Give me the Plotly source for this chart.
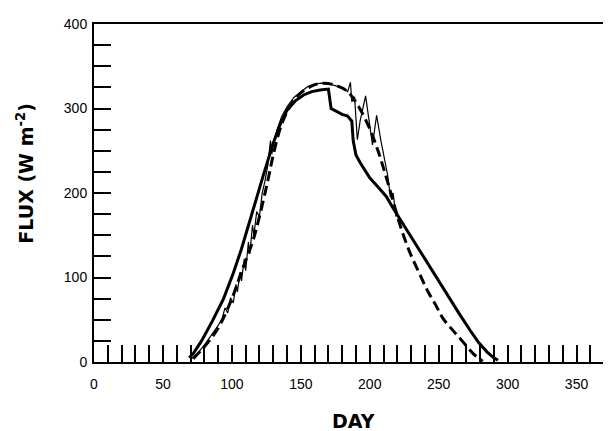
import plotly.graph_objects as go

# Thick solid curve
days_solid = [69, 72, 78, 86, 94, 101, 107, 112, 117, 123, 130, 135, 140, 146, 152, 158, 164, 170,
              172, 176, 180, 184, 187, 188, 190, 193, 200, 206, 212, 217, 225, 233, 241, 249, 257,
              265, 273, 279, 285, 290, 293]
flux_solid = [5, 10, 25, 49, 75, 105, 134, 162, 190, 222, 259, 281, 298, 309, 316, 320, 322, 323,
              300, 296, 293, 291, 285, 262, 245, 236, 218, 207, 196, 182, 161, 141, 120, 99, 78,
              57, 37, 23, 12, 5, 2]

# Dashed curve
days_dash = [72, 80, 90, 100, 107, 115, 120, 126, 130, 135, 140, 147, 157, 166, 176, 184, 192, 200,
             206, 211, 216, 222, 229, 236, 242, 248, 253, 260, 266, 275, 282]
flux_dash = [4, 18, 40, 75, 107, 142, 172, 214, 245, 276, 296, 314, 326, 330, 327, 320, 302, 276,
             250, 224, 196, 162, 130, 105, 84, 67, 52, 38, 27, 10, 1]

# Thin noisy curve
days_thin = [70, 75, 80, 85, 90, 93, 95, 97, 99, 101, 103, 104, 106, 107, 109, 110, 112, 113, 115,
             116, 118, 120, 122, 124, 126, 128, 129, 130, 133, 136, 140, 145, 150, 155, 160, 165,
             170, 175, 180, 184, 186, 187, 189, 191, 193, 197, 202, 205, 208, 211, 213, 215, 217, 219]
flux_thin = [3, 10, 20, 31, 43, 52, 64, 58, 76, 70, 92, 83, 106, 96, 122, 108, 142, 128, 162,
             150, 178, 172, 200, 214, 232, 262, 246, 258, 276, 290, 302, 313, 320, 326, 329, 330,
             329, 327, 324, 320, 331, 308, 314, 263, 285, 315, 257, 292, 263, 238, 221, 195, 200, 172]

x_ticks = [0, 50, 100, 150, 200, 250, 300, 350]
y_ticks = [0, 100, 200, 300, 400]

fig = go.Figure()
fig.add_trace(go.Scatter(x=days_thin, y=flux_thin, mode="lines",
                         line=dict(color="black", width=1.2), showlegend=False))
fig.add_trace(go.Scatter(x=days_dash, y=flux_dash, mode="lines", line_shape="spline",
                         line=dict(color="black", width=3, dash="10px,5px"), showlegend=False))
fig.add_trace(go.Scatter(x=days_solid, y=flux_solid, mode="lines",
                         line=dict(color="black", width=3), showlegend=False))

tickfont = dict(family="Liberation Sans, Arial", size=14, color="black")

fig.update_layout(
    width=611, height=431,
    margin=dict(l=86, r=8, t=12, b=77),
    paper_bgcolor="white", plot_bgcolor="white",
    showlegend=False,
    xaxis=dict(range=[0, 375], tickvals=x_ticks, ticktext=[str(v) for v in x_ticks],
               ticks="inside", ticklen=17, tickwidth=1.5, tickcolor="black",
               minor=dict(dtick=10, tick0=0, ticks="inside", ticklen=17, tickwidth=1.5, tickcolor="black"),
               showline=True, linecolor="black", linewidth=2, mirror=True,
               showgrid=False, zeroline=False, tickfont=tickfont, ticklabelstandoff=8),
    yaxis=dict(range=[0, 400], tickvals=y_ticks, ticktext=[str(v) for v in y_ticks],
               ticks="inside", ticklen=17, tickwidth=1.5, tickcolor="black",
               minor=dict(dtick=25, tick0=0, ticks="inside", ticklen=17, tickwidth=1.5, tickcolor="black"),
               showline=True, linecolor="black", linewidth=2, mirror=False,
               showgrid=False, zeroline=False, tickfont=tickfont, ticklabelstandoff=2),
    annotations=[
        dict(text="<b>DAY</b>", xref="paper", yref="paper", x=0.501, y=-0.175,
             showarrow=False, xanchor="center", yanchor="middle",
             font=dict(family="DejaVu Sans", size=19, color="black")),
        dict(text="<b>FLUX (W m<sup>-2</sup>)</b>", xref="paper", yref="paper", x=-0.1335, y=0.56,
             showarrow=False, xanchor="center", yanchor="middle", textangle=-90,
             font=dict(family="DejaVu Sans", size=19, color="black")),
    ],
)

fig.write_html("out.html")
